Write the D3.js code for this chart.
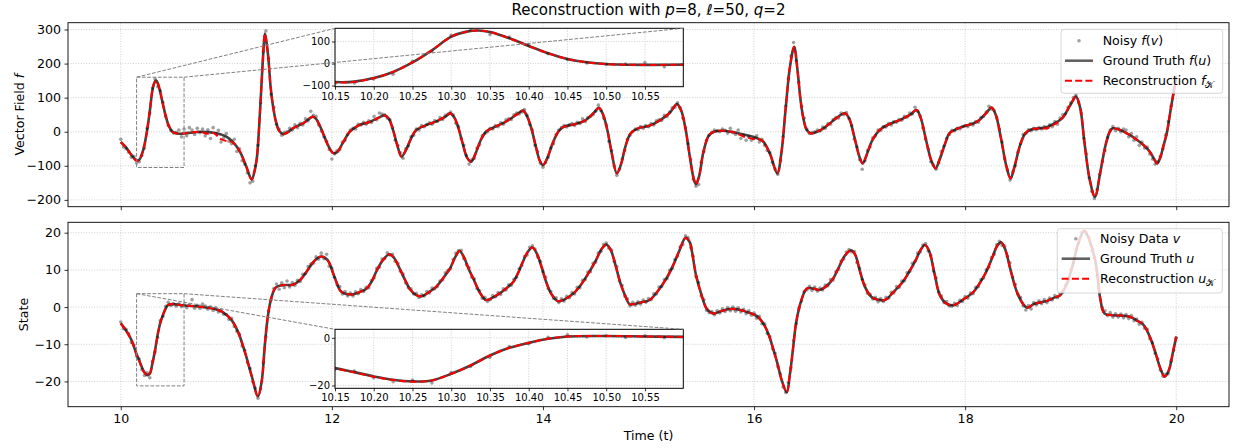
<!DOCTYPE html>
<html><head><meta charset="utf-8">
<script src="https://cdn.jsdelivr.net/npm/d3@7"></script>
<style>
body{margin:0;background:#fff;}
svg{font-family:"DejaVu Sans",sans-serif;}
.grid{stroke:#c4c4c4;stroke-width:0.8;stroke-dasharray:1,1.6;}
</style></head><body>
<svg id="chart" width="1241" height="448"></svg>
<script>
// ---------------- DATA ----------------
const xTicks = [10, 12, 14, 16, 18, 20];
const fTicks = [-200, -100, 0, 100, 200, 300];
const uTicks = [-20, -10, 0, 10, 20];
const insetXTicks = [10.15, 10.20, 10.25, 10.30, 10.35, 10.40, 10.45, 10.50, 10.55];
const fInsetTicks = [-100, 0, 100];
const uInsetTicks = [-20, 0];
const zoomT = [10.15, 10.5995];
const fZoomRange = [-105, 160];
const uZoomRange = [-21.2, 3.6];

// Ground truth vector field f(u) (key points)
const fTruthT = [10.00,10.05,10.10,10.15,10.175,10.20,10.225,10.25,10.275,10.30,
10.32,10.335,10.35,10.375,10.40,10.425,10.45,10.475,10.50,10.55,
10.60,10.68,10.75,10.82,10.88,10.95,11.00,11.06,11.13,11.19,
11.24,11.27,11.29,11.31,11.33,11.35,11.365,11.38,11.40,11.42,
11.44,11.47,11.50,11.54,11.58,11.63,11.68,11.73,11.79,11.82,
11.85,11.89,11.93,11.97,12.01,12.05,12.10,12.17,12.25,12.35,
12.45,12.50,12.54,12.58,12.62,12.66,12.70,12.75,12.80,12.90,
13.00,13.08,13.12,13.16,13.20,13.24,13.28,13.32,13.36,13.41,
13.46,13.55,13.65,13.75,13.81,13.85,13.89,13.93,13.97,14.00,
14.04,14.09,14.15,14.20,14.30,14.40,14.48,14.53,14.57,14.61,
14.65,14.70,14.74,14.78,14.83,14.90,15.00,15.10,15.20,15.27,
15.31,15.35,15.39,15.43,15.45,15.48,15.52,15.57,15.62,15.70,
15.80,15.90,15.99,16.05,16.09,16.15,16.22,16.26,16.30,16.34,
16.38,16.41,16.44,16.47,16.50,16.54,16.62,16.70,16.78,16.86,
16.90,16.95,17.00,17.03,17.07,17.12,17.19,17.28,17.38,17.48,
17.54,17.58,17.63,17.68,17.72,17.76,17.81,17.85,17.92,17.98,
18.11,18.20,18.25,18.29,18.34,18.39,18.43,18.47,18.52,18.57,
18.62,18.70,18.77,18.85,18.92,19.00,19.05,19.09,19.13,19.18,
19.23,19.28,19.33,19.37,19.40,19.47,19.55,19.62,19.70,19.75,
19.80,19.82,19.85,19.88,19.91,19.95,20.00];
const fTruthV = [-30,-46,-68,-84,-82,-66,-38,5,60,122,
145,150,143,115,80,47,21,6,-2,-6,
-5,-2,0,-1,-3,-8,-14,-29,-59,-103,
-140,-112,-75,10,120,230,288,265,210,130,
80,30,3,-7,-2,10,18,25,39,44,
38,15,-15,-44,-62,-60,-35,0,18,28,
42,48,38,5,-40,-73,-55,-20,5,20,
32,45,54,42,10,-35,-75,-88,-65,-25,
0,15,30,50,62,45,10,-40,-85,-98,
-78,-35,2,15,22,33,55,70,50,5,
-60,-122,-95,-45,-5,10,17,32,55,81,
62,10,-70,-140,-154,-130,-60,-12,0,3,
-1,-8,-15,-22,-30,-64,-122,-60,70,190,
249,185,95,35,5,-5,3,20,40,54,
40,-15,-75,-93,-65,-25,5,22,34,50,
64,40,-25,-85,-107,-80,-35,-5,8,15,
29,55,71,50,-20,-100,-137,-100,-40,-5,
6,10,13,25,40,80,103,70,-30,-140,
-191,-120,-40,0,10,5,-8,-22,-42,-59,
-85,-93,-75,-40,-5,70,160];
// Reconstruction f_K (same sample times as fTruthT)
const fReconV = [-30,-46,-68,-86,-83,-66,-38,5,60,122,
145,150,143,115,80,47,21,6,-2,-6,
-5,-2,0,-6,-4,-22,-27,-31,-59,-103,
-140,-112,-75,10,120,230,288,265,210,130,
80,30,3,-7,-2,10,18,25,39,44,
38,15,-15,-44,-62,-60,-35,0,18,28,
42,48,38,5,-40,-73,-55,-20,5,20,
32,45,54,42,10,-35,-75,-88,-65,-25,
0,15,30,50,62,45,10,-40,-85,-98,
-78,-35,2,15,22,33,55,70,50,5,
-60,-122,-95,-45,-5,10,17,32,55,81,
62,10,-70,-140,-154,-130,-60,-12,0,3,
-1,-14,-21,-22,-30,-64,-122,-60,70,190,
249,185,95,35,5,-5,3,20,40,54,
40,-15,-75,-93,-65,-25,5,22,34,50,
64,40,-25,-85,-107,-80,-35,-5,8,15,
29,55,71,50,-20,-100,-137,-100,-40,-5,
6,10,10,22,40,80,103,70,-30,-140,
-191,-120,-40,0,10,5,-8,-22,-42,-59,
-85,-93,-75,-40,-5,70,160];

// Ground truth state u (key points)
const uTruthT = [10.00,10.05,10.10,10.15,10.175,10.20,10.225,10.25,10.275,10.30,
10.325,10.35,10.375,10.40,10.425,10.45,10.50,10.55,10.60,10.75,
10.875,10.97,11.05,11.11,11.175,11.24,11.30,11.335,11.365,11.395,
11.43,11.47,11.54,11.63,11.70,11.76,11.84,11.90,11.96,12.03,
12.09,12.19,12.26,12.33,12.38,12.42,12.48,12.545,12.59,12.64,
12.69,12.74,12.80,12.85,12.92,12.99,13.06,13.12,13.17,13.21,
13.25,13.30,13.34,13.40,13.46,13.52,13.59,13.66,13.72,13.77,
13.81,13.86,13.90,13.94,13.99,14.03,14.08,14.14,14.20,14.29,
14.36,14.44,14.50,14.56,14.60,14.64,14.69,14.73,14.78,14.82,
14.88,14.95,15.01,15.08,15.17,15.23,15.29,15.35,15.39,15.42,
15.45,15.50,15.55,15.61,15.68,15.75,15.80,15.87,15.93,16.00,
16.05,16.10,16.14,16.18,16.22,16.26,16.31,16.34,16.37,16.40,
16.45,16.50,16.56,16.62,16.68,16.75,16.80,16.86,16.92,16.96,
17.00,17.05,17.11,17.17,17.24,17.32,17.41,17.47,17.53,17.58,
17.62,17.66,17.71,17.76,17.82,17.89,17.98,18.08,18.14,18.20,
18.26,18.30,18.34,18.38,18.43,18.49,18.55,18.59,18.65,18.72,
18.77,18.85,18.90,18.96,19.02,19.07,19.13,19.19,19.24,19.28,
19.32,19.40,19.48,19.56,19.62,19.69,19.75,19.80,19.85,19.89,
19.93,19.97,20.00];
const uTruthV = [-4.4,-6.3,-8.8,-12.7,-14.4,-16.2,-17.6,-18.3,-17.9,-15.1,
-11.6,-7.4,-4.2,-2.1,-0.4,0.6,0.8,0.6,0.4,0.1,
-0.4,-1.4,-3.5,-6.6,-12,-18.5,-24,-20,-10.2,-2.2,
2.8,5.3,5.9,6.0,7.3,9.5,12.6,13.6,12.6,7.7,
4.1,3.4,4.0,5.0,7,9.5,12.5,14.2,13.2,10.5,
7.5,4.8,3.2,2.9,4,5.5,8,10.4,13.5,15.1,
13.5,10,7.7,4,1.9,2.5,3.7,5.2,6.8,9.5,
12.2,15,16.0,14.5,10.5,6.8,3.5,1.6,2.0,3.7,
6,9.5,12.5,15.8,16.8,15.5,11,6.8,3,0.8,
0.9,1.4,1.9,4,7.7,11,15,18.6,17.5,13.5,
8.6,3.5,-0.4,-1.7,-1.2,-0.6,-0.5,-0.8,-1.3,-2.0,
-3.0,-5,-7.5,-11.1,-15,-19.5,-22.9,-18,-11,-4,
2,5.0,5.0,4.6,5.5,7.7,10.5,13.8,15.3,14,
10,5.5,2.8,2.0,1.9,4,6.8,9.5,12.5,15.5,
16.7,15,9,3.2,1.0,0.5,2,4.1,6.5,9.5,
13.5,16.3,17.4,15.5,10,4.1,0.8,-0.2,0.8,1.3,
1.6,2.6,3.2,6,11.3,17,20.5,17,11.3,2.3,
-1.7,-2.2,-2.3,-2.6,-3.5,-4.8,-8,-12,-16.5,-18.7,
-17,-12,-8];
// Reconstruction u_K (same sample times as uTruthT)
const uReconV = [-4.4,-6.3,-8.8,-12.8,-14.5,-16.3,-17.7,-18.4,-17.9,-15.1,
-11.6,-7.4,-4.2,-2.1,-0.4,0.6,0.8,0.6,0.4,0.1,
-0.4,-1.4,-3.5,-6.6,-12,-18.5,-24,-20,-10.2,-2.2,
2.8,5.3,5.9,6.0,7.3,9.5,12.6,13.6,12.6,7.7,
4.1,3.4,4.0,5.0,7,9.5,12.5,14.2,13.2,10.5,
7.5,4.8,3.2,2.9,4,5.5,8,10.4,13.5,15.1,
13.5,10,7.7,4,1.9,2.5,3.7,5.2,6.8,9.5,
12.2,15,16.0,14.5,10.5,6.8,3.5,1.6,2.0,3.7,
6,9.5,12.5,15.8,16.8,15.5,11,6.8,3,0.8,
0.9,1.4,1.9,4,7.7,11,15,18.6,17.5,13.5,
8.6,3.5,-0.4,-1.7,-1.2,-0.6,-0.5,-0.8,-1.3,-2.0,
-3.0,-5,-7.5,-11.1,-15,-19.5,-22.9,-18,-11,-4,
2,5.0,5.0,4.6,5.5,7.7,10.5,13.8,15.3,14,
10,5.5,2.8,2.0,1.9,4,6.8,9.5,12.5,15.5,
16.7,15,9,3.2,1.0,0.5,2,4.1,6.5,9.5,
13.5,16.3,17.4,15.5,10,4.1,0.8,-0.2,0.8,1.3,
1.6,2.6,3.2,6,11.3,17,20.5,17,11.3,2.3,
-1.7,-2.2,-2.3,-2.6,-3.5,-4.8,-8,-12,-16.5,-18.7,
-17,-12,-8];

// Noisy samples, every 0.025 from t = 10
const noisyT0 = 10, noisyDt = 0.025;
const fNoisyV = [
-22,-45,-50,-60,-75,-72,-92,-88,-70,-48,10,55,128,155,132,120,86,45,18,3,
-4,-2,5,-15,8,-12,12,5,-8,10,-3,8,-12,6,-20,12,-5,4,-30,-18,
-5,-28,-35,-22,-58,-50,-85,-95,-120,-150,-145,-100,-40,85,235,296,215,110,72,22,
8,-10,-2,0,10,5,20,12,25,20,38,32,60,48,45,20,2,-15,-28,-52,
-80,-65,-55,-52,-30,-25,-8,5,10,8,22,20,28,22,32,27,45,35,55,52,
50,40,35,12,-25,-40,-62,-78,-50,-42,-15,-10,8,5,18,15,22,26,22,33,
30,42,36,48,52,58,50,25,15,-20,-40,-70,-95,-82,-78,-48,-38,-12,-5,0,
10,8,18,15,26,22,35,38,36,50,55,52,58,65,48,22,5,-40,-58,-92,
-104,-90,-75,-48,-35,-8,5,12,18,14,20,24,18,28,24,38,30,42,45,50,
60,78,62,40,20,-28,-55,-100,-128,-110,-80,-55,-22,-10,0,8,6,15,10,18,
15,24,20,32,35,33,48,45,58,70,72,85,70,40,12,-35,-80,-140,-160,-155,
-90,-58,-25,-10,-2,5,3,0,8,4,-4,10,-3,-8,5,-20,-10,-25,-15,-25,
-20,-12,-30,-22,-40,-55,-62,-90,-110,-125,-85,-15,75,155,222,262,208,145,75,40,
8,-5,-2,0,5,2,14,10,24,22,36,42,40,55,50,56,38,18,-22,-45,
-82,-110,-85,-55,-45,-18,-12,5,4,15,14,24,20,30,28,36,34,45,43,55,
52,72,60,46,12,-22,-50,-88,-98,-110,-90,-58,-42,-20,-8,4,2,10,8,15,
18,15,24,20,30,28,42,45,58,75,66,62,40,8,-30,-80,-112,-142,-118,-100,
-60,-35,-8,-5,6,3,10,6,12,8,15,10,20,15,30,22,40,50,52,72,
85,100,108,85,55,-20,-65,-135,-175,-196,-170,-125,-88,-55,-18,5,15,3,10,0,
8,5,-15,-5,-25,-15,-40,-30,-48,-45,-65,-80,-95,-88,-72,-50,-10,30,75,112,162];
const uNoisyV = [
-4.0,-5.8,-6.0,-7.2,-9.5,-10.2,-13.2,-14.0,-16.8,-18.4,-17.7,-19.0,-14.6,-12.0,-8.2,-3.6,-2.5,0.2,1.3,0.4,
0.9,0.2,0.9,0.1,0.7,-0.2,0.6,2.0,-0.3,0.5,-0.4,0.8,0.3,-0.6,0.1,-0.9,-0.2,-1.3,-0.8,-1.9,
-2.0,-3.3,-3.0,-5.2,-6.5,-7.3,-10.5,-11.6,-14.9,-16.5,-20.1,-21.8,-24.5,-22.0,-15.0,-8.0,-1.0,2.0,5.0,6.2,
4.8,6.5,5.2,7.0,5.4,6.6,5.8,7.2,6.9,8.8,9.0,10.9,11.6,11.8,13.5,12.9,14.5,13.0,14.2,11.0,
10.4,8.0,6.0,5.5,3.5,4.2,3.0,3.8,3.0,4.1,3.6,4.7,4.2,5.3,5.2,7.1,7.8,10.4,10.7,12.9,
13.0,14.6,14.0,14.2,12.3,11.8,9.6,8.9,6.5,5.2,4.9,3.5,3.7,2.6,3.3,3.0,4.2,3.8,5.1,4.9,
5.5,7.0,7.3,9.2,9.9,10.3,12.8,14.5,15.2,15.3,13.0,11.4,10.6,8.0,7.6,5.0,4.4,2.4,2.6,1.5,
2.0,3.1,2.8,3.9,3.4,4.9,4.6,6.0,5.9,7.5,8.0,10.3,11.2,13.6,14.0,16.1,16.5,15.6,13.5,12.3,
9.5,8.0,5.0,4.2,2.3,2.5,1.2,2.2,1.6,2.9,2.5,3.9,3.5,5.3,5.2,7.2,7.4,9.4,9.5,11.8,
12.1,14.5,15.0,16.8,17.2,15.8,15.3,12.3,10.9,7.0,5.8,3.0,2.2,0.3,1.3,0.5,1.4,0.8,1.9,1.3,
2.3,2.0,3.6,3.5,5.4,5.5,7.4,7.6,9.9,10.4,12.8,13.7,16.2,16.8,19.2,18.7,16.0,13.6,8.2,6.6,
3.0,2.0,-0.9,-1.5,-1.2,-2.1,-1.0,-1.6,-0.5,-1.2,-0.1,-1.0,0.0,-1.1,-0.2,-1.3,-0.6,-1.8,-1.0,-2.2,
-1.6,-3.0,-2.5,-4.5,-4.6,-7.1,-8.0,-11.2,-12.5,-16.0,-18.0,-21.5,-23.0,-20.3,-16.3,-9.0,-4.5,-0.3,1.6,4.2,
4.6,5.6,4.5,5.4,4.3,5.1,4.6,5.9,5.7,7.4,7.3,9.5,10.1,12.4,12.9,14.8,15.5,14.8,14.9,12.0,
10.5,7.4,6.0,3.7,3.4,2.2,2.6,1.4,2.3,1.5,2.6,2.4,4.0,3.8,5.5,5.3,7.0,7.1,9.2,9.6,
11.8,12.3,14.5,14.8,16.7,17.1,15.1,13.8,9.7,7.8,4.0,3.0,1.2,1.5,0.3,0.2,1.0,0.4,1.8,1.5,
2.8,2.4,3.8,3.6,5.3,5.5,7.4,7.8,10.0,10.7,13.3,14.2,16.8,17.7,16.6,16.4,13.7,11.9,8.1,6.1,
3.4,2.6,0.3,-0.8,0.4,-0.5,1.2,0.6,1.7,0.9,2.0,1.2,2.4,1.9,3.1,2.5,3.7,3.9,6.0,7.0,
10.1,11.9,15.5,17.2,20.1,20.3,19.6,18.7,15.1,13.3,8.5,4.0,-0.2,-1.0,-2.3,-1.5,-2.7,-1.8,-2.7,-1.9,
-2.9,-2.0,-3.1,-2.3,-3.7,-3.2,-4.6,-4.1,-5.7,-6.0,-8.5,-9.6,-12.5,-13.9,-17.0,-18.6,-18.1,-17.9,-14.6,-11.6,-8.3];

// ---------------- DRAWING ----------------
const svg = d3.select('#chart');
const FONT = 'DejaVu Sans';
const X = d3.scaleLinear().domain([9.5, 20.5]).range([68, 1229]);
const Yf = d3.scaleLinear().domain([-220, 320]).range([206.7, 22.7]);
const Yu = d3.scaleLinear().domain([-26.8, 22.8]).range([406.7, 222.3]);

const zip = (a, b) => a.map((v, i) => [v, b[i]]);
const noisyT = fNoisyV.map((_, i) => noisyT0 + i * noisyDt);
const fTruth = zip(fTruthT, fTruthV), fRecon = zip(fTruthT, fReconV), fNoisy = zip(noisyT, fNoisyV);
const uTruth = zip(uTruthT, uTruthV), uRecon = zip(uTruthT, uReconV), uNoisy = zip(noisyT, uNoisyV);

const fmtNum = d => d < 0 ? '\u2212' + Math.abs(d) : String(d);
const defs = svg.append('defs');

function styleAxis(a, size) {
  a.attr('font-family', FONT).attr('font-size', size);
  a.select('.domain').remove();
  a.selectAll('text').attr('fill', '#000');
  a.selectAll('line').attr('stroke', '#000').attr('stroke-width', 0.8);
}

function drawData(g, x, y, truth, recon, noisy, r) {
  g.append('g').selectAll('circle').data(noisy).join('circle')
    .attr('cx', d => x(d[0])).attr('cy', d => y(d[1])).attr('r', r)
    .attr('fill', '#808080').attr('fill-opacity', 0.75);
  const ln = d3.line().x(d => x(d[0])).y(d => y(d[1])).curve(d3.curveCatmullRom.alpha(0.5));
  g.append('path').attr('d', ln(truth)).attr('fill', 'none').attr('stroke', '#000')
    .attr('stroke-opacity', 0.74).attr('stroke-width', 2.6).attr('stroke-linejoin', 'round');
  g.append('path').attr('d', ln(recon)).attr('fill', 'none').attr('stroke', '#ff0000')
    .attr('stroke-width', 2).attr('stroke-dasharray', '7,3.2');
}

function drawPanel(id, y, yTicks, showXLabels, truth, recon, noisy) {
  const [L, R] = X.range(); const B = y.range()[0], T = y.range()[1];
  const g = svg.append('g');
  defs.append('clipPath').attr('id', id).append('rect')
    .attr('x', L).attr('y', T).attr('width', R - L).attr('height', B - T);
  g.append('g').selectAll('line').data(xTicks).join('line').attr('class', 'grid')
    .attr('x1', d => X(d)).attr('x2', d => X(d)).attr('y1', T).attr('y2', B);
  g.append('g').selectAll('line').data(yTicks).join('line').attr('class', 'grid')
    .attr('x1', L).attr('x2', R).attr('y1', d => y(d)).attr('y2', d => y(d));
  drawData(g.append('g').attr('clip-path', `url(#${id})`), X, y, truth, recon, noisy, 1.8);
  const ay = g.append('g').attr('transform', `translate(${L},0)`)
    .call(d3.axisLeft(y).tickValues(yTicks).tickSize(3.5).tickPadding(3.5).tickSizeOuter(0).tickFormat(fmtNum));
  styleAxis(ay, 12.6);
  const ax = g.append('g').attr('transform', `translate(0,${B})`)
    .call(d3.axisBottom(X).tickValues(xTicks).tickSize(3.5).tickPadding(3.5).tickSizeOuter(0)
      .tickFormat(showXLabels ? (d => String(d)) : (() => '')));
  styleAxis(ax, 12.6);
  g.append('rect').attr('x', L).attr('y', T).attr('width', R - L).attr('height', B - T)
    .attr('fill', 'none').attr('stroke', '#000').attr('stroke-width', 0.9);
}

function drawInset(id, box, yDom, yTicks, mainY, truth, recon, noisy) {
  const xi = d3.scaleLinear().domain(zoomT).range([box.x0, box.x1]);
  const yi = d3.scaleLinear().domain(yDom).range([box.y1, box.y0]);
  const g = svg.append('g');
  g.append('rect').attr('x', box.x0).attr('y', box.y0).attr('width', box.x1 - box.x0)
    .attr('height', box.y1 - box.y0).attr('fill', '#fff');
  defs.append('clipPath').attr('id', id).append('rect').attr('x', box.x0).attr('y', box.y0)
    .attr('width', box.x1 - box.x0).attr('height', box.y1 - box.y0);
  g.append('g').selectAll('line').data(insetXTicks).join('line').attr('class', 'grid')
    .attr('x1', d => xi(d)).attr('x2', d => xi(d)).attr('y1', box.y0).attr('y2', box.y1);
  g.append('g').selectAll('line').data(yTicks).join('line').attr('class', 'grid')
    .attr('x1', box.x0).attr('x2', box.x1).attr('y1', d => yi(d)).attr('y2', d => yi(d));
  const inNoisy = noisy.filter(d => d[0] >= zoomT[0] - 1e-9 && d[0] <= zoomT[1]);
  drawData(g.append('g').attr('clip-path', `url(#${id})`), xi, yi, truth, recon, inNoisy, 1.8);
  const ay = g.append('g').attr('transform', `translate(${box.x0},0)`)
    .call(d3.axisLeft(yi).tickValues(yTicks).tickSize(3).tickPadding(2).tickSizeOuter(0).tickFormat(fmtNum));
  styleAxis(ay, 10);
  const ax = g.append('g').attr('transform', `translate(0,${box.y1})`)
    .call(d3.axisBottom(xi).tickValues(insetXTicks).tickSize(3).tickPadding(3).tickSizeOuter(0).tickFormat(d3.format('.2f')));
  styleAxis(ax, 10);
  g.append('rect').attr('x', box.x0).attr('y', box.y0).attr('width', box.x1 - box.x0)
    .attr('height', box.y1 - box.y0).attr('fill', 'none').attr('stroke', '#000').attr('stroke-width', 1);
  // zoom region in main axes + connectors
  const rx0 = X(zoomT[0]), rx1 = X(zoomT[1]), ry0 = mainY(yDom[1]), ry1 = mainY(yDom[0]);
  const dash = g => g.attr('fill', 'none').attr('stroke', '#808080').attr('stroke-width', 1).attr('stroke-dasharray', '3.7,1.6');
  svg.append('rect').attr('x', rx0).attr('y', ry0).attr('width', rx1 - rx0).attr('height', ry1 - ry0).call(dash);
  svg.append('line').attr('x1', rx0).attr('y1', ry0).attr('x2', box.x0).attr('y2', box.y0).call(dash);
  svg.append('line').attr('x1', rx1).attr('y1', ry0).attr('x2', box.x1).attr('y2', box.y0).call(dash);
}

function richText(sel, parts) {
  parts.forEach(p => {
    const t = sel.append('tspan').text(p[0]);
    if (p[1] && p[1].includes('i')) t.attr('font-style', 'italic');
    if (p[1] && p[1].includes('s')) t.attr('font-size', '0.7em').attr('dy', 3);
  });
}

function drawLegend(box, rows, hx0, hx1, tx, labels) {
  const g = svg.append('g').attr('font-family', FONT).attr('font-size', 12.6);
  g.append('rect').attr('x', box.x0).attr('y', box.y0).attr('width', box.x1 - box.x0)
    .attr('height', box.y1 - box.y0).attr('rx', 3).attr('fill', '#fff').attr('fill-opacity', 0.8)
    .attr('stroke', '#cccccc').attr('stroke-width', 0.8);
  g.append('circle').attr('cx', (hx0 + hx1) / 2).attr('cy', rows[0]).attr('r', 1.8)
    .attr('fill', '#808080').attr('fill-opacity', 0.75);
  g.append('line').attr('x1', hx0).attr('x2', hx1).attr('y1', rows[1]).attr('y2', rows[1])
    .attr('stroke', '#000').attr('stroke-opacity', 0.62).attr('stroke-width', 2.6);
  g.append('line').attr('x1', hx0).attr('x2', hx1).attr('y1', rows[2]).attr('y2', rows[2])
    .attr('stroke', '#ff0000').attr('stroke-width', 2).attr('stroke-dasharray', '7,3.2');
  labels.forEach((parts, i) => {
    const t = g.append('text').attr('x', tx).attr('y', rows[i]).attr('dy', '0.35em').attr('fill', '#000');
    richText(t, parts);
  });
}

// Panels
drawPanel('clipF', Yf, fTicks, false, fTruth, fRecon, fNoisy);
drawPanel('clipU', Yu, uTicks, true, uTruth, uRecon, uNoisy);
drawInset('clipFi', {x0: 335, x1: 683.3, y0: 28.3, y1: 86.7}, fZoomRange, fInsetTicks, Yf, fTruth, fRecon, fNoisy);
drawInset('clipUi', {x0: 335, x1: 683.3, y0: 329.3, y1: 388.3}, uZoomRange, uInsetTicks, Yu, uTruth, uRecon, uNoisy);

const K = '\uD835\uDCA6';
drawLegend({x0: 1061, x1: 1222.7, y0: 29.3, y1: 93.3}, [40.7, 60.7, 80.7], 1065, 1093, 1102.7, [
  [['Noisy '], ['f', 'i'], ['('], ['v', 'i'], [')']],
  [['Ground Truth '], ['f', 'i'], ['('], ['u', 'i'], [')']],
  [['Reconstruction '], ['f', 'i'], [K, 's']]
]);
drawLegend({x0: 1057.3, x1: 1222.3, y0: 228.7, y1: 293}, [238.7, 258.7, 278.7], 1061.7, 1090, 1100, [
  [['Noisy Data '], ['v', 'i']],
  [['Ground Truth '], ['u', 'i']],
  [['Reconstruction '], ['u', 'i'], [K, 's']]
]);

// Titles and axis labels
const title = svg.append('text').attr('x', 648.5).attr('y', 14.5).attr('text-anchor', 'middle')
  .attr('font-family', FONT).attr('font-size', 15).attr('fill', '#000');
richText(title, [['Reconstruction with '], ['p', 'i'], ['=8, '], ['\u2113', 'i'], ['=50, '], ['q', 'i'], ['=2']]);

const yl1 = svg.append('text').attr('transform', 'translate(24,114.7) rotate(-90)').attr('text-anchor', 'middle')
  .attr('font-family', FONT).attr('font-size', 12.6).attr('fill', '#000');
richText(yl1, [['Vector Field '], ['f', 'i']]);
svg.append('text').attr('transform', 'translate(28,314.5) rotate(-90)').attr('text-anchor', 'middle')
  .attr('font-family', FONT).attr('font-size', 12.6).attr('fill', '#000').text('State');
svg.append('text').attr('x', 648.5).attr('y', 440).attr('text-anchor', 'middle')
  .attr('font-family', FONT).attr('font-size', 12.6).attr('fill', '#000').text('Time (t)');
</script></body></html>
